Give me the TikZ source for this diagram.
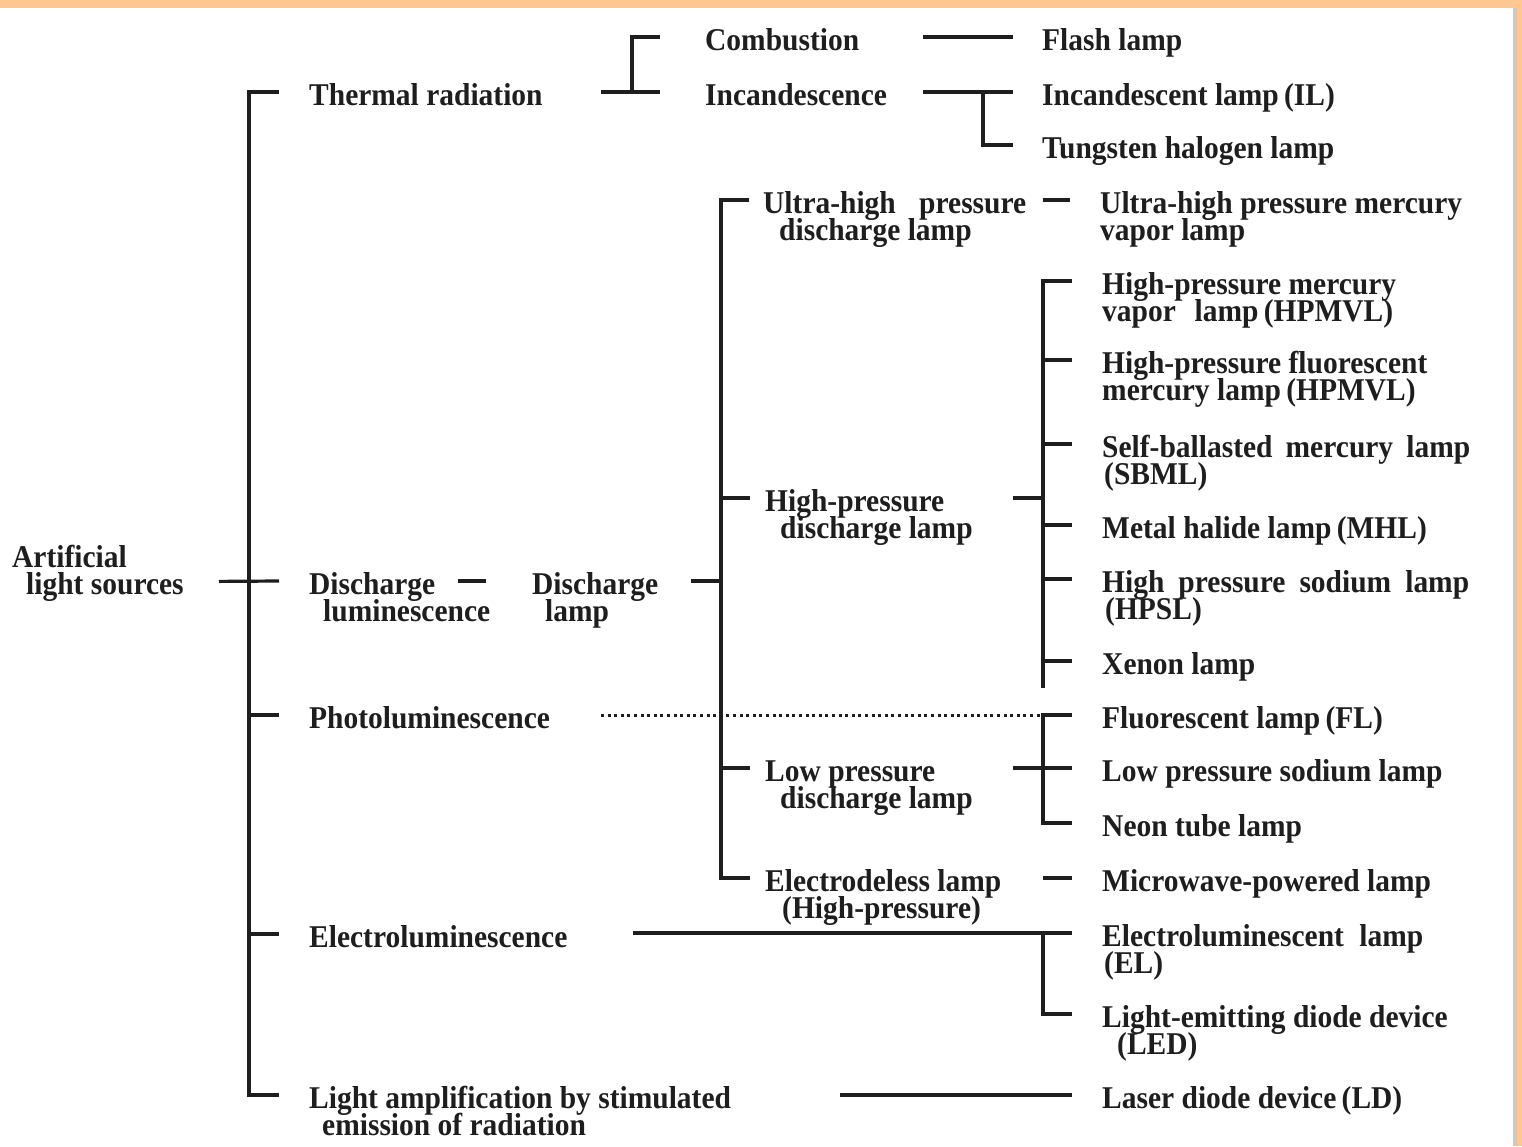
\documentclass[tikz,border=0pt]{standalone}
\usepackage{fontspec}
\setmainfont{Liberation Serif}[FakeStretch=0.93]
\usetikzlibrary{positioning}
\definecolor{ink}{HTML}{1E1E1E}
\definecolor{peach}{HTML}{FFC891}
\definecolor{rim}{HTML}{C9C9C9}
\newcommand{\jline}[2]{\makebox[#1][s]{#2}}

\begin{document}
\begin{tikzpicture}[x=1pt, y=-1pt,
  lbl/.style={anchor=west, inner sep=0pt, text height=27pt, text depth=0pt, text=ink,
    font=\fontsize{31.7}{27}\selectfont\bfseries},
  br/.style={draw=ink, line width=3.2pt},
  dotline/.style={draw=ink, line width=3pt, dash pattern=on 3pt off 3.6pt}]
  \useasboundingbox (0,0) rectangle (1522,1146);
  \fill[white] (0,0) rectangle (1522,1146);
  \fill[peach] (0,0) rectangle (1522,8);
  \fill[rim] (1513,8) rectangle (1517,1146);
  \fill[peach] (1517,0) rectangle (1522,1146);

  \coordinate (rootin) at (219,0);
  \coordinate (bus0) at (249,0);
  \coordinate (dash1) at (458,0);
  \coordinate (bus1in) at (601,0);
  \coordinate (bus1) at (632,0);
  \coordinate (elin) at (633,0);
  \coordinate (bus3in) at (691,0);
  \coordinate (bus3) at (721,0);
  \coordinate (ldin) at (840,0);
  \coordinate (bus2in) at (923,0);
  \coordinate (bus2) at (983,0);
  \coordinate (bus4in) at (1013,0);
  \coordinate (bus4) at (1043,0);
  \coordinate (bus4end) at (1043,688);

  \node[lbl] (src) at (12,554) {Artificial};
  \node[lbl, below right=0pt and 14pt of src.south west] (src2) {light sources};
  \node[lbl] (therm) at (309,92) {Thermal radiation};
  \node[lbl] (disch) at (309,581) {Discharge};
  \node[lbl, below right=0pt and 14pt of disch.south west] (disch2) {luminescence};
  \node[lbl] (photo) at (309,715) {Photoluminescence};
  \node[lbl] (electro) at (309,934) {Electroluminescence};
  \node[lbl] (laser) at (309,1095) {Light amplification by stimulated};
  \node[lbl, below right=0pt and 13pt of laser.south west] (laser2) {emission of radiation};

  \node[lbl] (comb) at (705,37) {Combustion};
  \node[lbl] (incand) at (705,92) {Incandescence};
  \node[lbl] (dlamp) at (532,581) {Discharge};
  \node[lbl, below right=0pt and 13pt of dlamp.south west] (dlamp2) {lamp};

  \node[lbl] (flash) at (1042,37) {Flash lamp};
  \node[lbl] (il) at (1042,92) {Incandescent lamp\,(IL)};
  \node[lbl] (thl) at (1042,145) {Tungsten halogen lamp};

  \node[lbl] (uhp) at (763,200) {\jline{263pt}{Ultra-high pressure}};
  \node[lbl, below right=0pt and 16pt of uhp.south west] (uhp2) {discharge lamp};
  \node[lbl] (hp) at (765,498) {High-pressure};
  \node[lbl, below right=0pt and 15pt of hp.south west] (hp2) {discharge lamp};
  \node[lbl] (lp) at (765,768) {Low pressure};
  \node[lbl, below right=0pt and 15pt of lp.south west] (lp2) {discharge lamp};
  \node[lbl] (eless) at (765,878) {Electrodeless lamp};
  \node[lbl, below right=0pt and 17pt of eless.south west] (eless2) {(High-pressure)};

  \node[lbl] (uhpmv) at (1100,200) {Ultra-high pressure mercury};
  \node[lbl, below right=0pt and 0pt of uhpmv.south west] (uhpmv2) {vapor lamp};
  \node[lbl] (hpmv) at (1102,281) {High-pressure mercury};
  \node[lbl, below right=0pt and 0pt of hpmv.south west] (hpmv2) {\jline{291pt}{vapor lamp\,(HPMVL)}};
  \node[lbl] (hpfm) at (1102,360) {High-pressure fluorescent};
  \node[lbl, below right=0pt and 0pt of hpfm.south west] (hpfm2) {mercury lamp\,(HPMVL)};
  \node[lbl] (sbml) at (1102,444) {\jline{368pt}{Self-ballasted mercury lamp}};
  \node[lbl, below right=0pt and 2pt of sbml.south west] (sbml2) {(SBML)};
  \node[lbl] (mhl) at (1102,525) {Metal halide lamp\,(MHL)};
  \node[lbl] (hpsl) at (1102,579) {\jline{367pt}{High pressure sodium lamp}};
  \node[lbl, below right=0pt and 3pt of hpsl.south west] (hpsl2) {(HPSL)};
  \node[lbl] (xenon) at (1102,661) {Xenon lamp};
  \node[lbl] (fl) at (1102,715) {Fluorescent lamp\,(FL)};
  \node[lbl] (lps) at (1102,768) {Low pressure sodium lamp};
  \node[lbl] (neon) at (1102,823) {Neon tube lamp};
  \node[lbl] (mwave) at (1102,878) {Microwave-powered lamp};
  \node[lbl] (el) at (1102,933) {\jline{321pt}{Electroluminescent lamp}};
  \node[lbl, below right=0pt and 2pt of el.south west] (el2) {(EL)};
  \node[lbl] (led) at (1102,1014) {Light-emitting diode device};
  \node[lbl, below right=0pt and 15pt of led.south west] (led2) {(LED)};
  \node[lbl] (ld) at (1102,1095) {Laser diode device\,(LD)};

  \draw[br] (rootin |- src2.west) -- ([xshift=-30pt]disch.west);
  \draw[br] ([xshift=-30pt]therm.west) -| (bus0 |- laser.west) -- ([xshift=-30pt]laser.west);
  \foreach \n in {photo,electro} \draw[br] (bus0 |- \n.west) -- ([xshift=-30pt]\n.west);

  \draw[br] (bus1in |- incand.west) -- ([xshift=-45pt]incand.west);
  \draw[br] ([xshift=-45pt]comb.west) -| (bus1 |- incand.west);
  \draw[br] (bus2in |- flash.west) -- ([xshift=-29pt]flash.west);
  \draw[br] (bus2in |- il.west) -- ([xshift=-29pt]il.west);
  \draw[br] (bus2 |- il.west) |- ([xshift=-29pt]thl.west);

  \draw[br] (dash1 |- dlamp.west) -- ([xshift=-46pt]dlamp.west);
  \draw[br] (bus3in |- dlamp.west) -- (bus3 |- dlamp.west);
  \draw[br] ([xshift=-14pt]uhp.west) -| (bus3 |- eless.west) -- ([xshift=-15pt]eless.west);
  \foreach \n in {hp,lp} \draw[br] (bus3 |- \n.west) -- ([xshift=-15pt]\n.west);
  \draw[br] (bus4 |- uhpmv.west) -- ([xshift=-30pt]uhpmv.west);

  \draw[br] (bus4in |- hp.west) -- (bus4 |- hp.west);
  \draw[br] ([xshift=-30pt]hpmv.west) -| (bus4end);
  \foreach \n in {hpfm,sbml,mhl,hpsl,xenon} \draw[br] (bus4 |- \n.west) -- ([xshift=-30pt]\n.west);

  \draw[dotline] (bus1in |- photo.west) -- (bus4 |- fl.west);
  \draw[br] ([xshift=-30pt]fl.west) -| (bus4 |- neon.west) -- ([xshift=-30pt]neon.west);
  \draw[br] (bus4in |- lps.west) -- ([xshift=-30pt]lps.west);
  \draw[br] (bus4 |- mwave.west) -- ([xshift=-30pt]mwave.west);

  \draw[br] (elin |- el.west) -- ([xshift=-30pt]el.west);
  \draw[br] (bus4 |- el.west) |- ([xshift=-30pt]led.west);
  \draw[br] (ldin |- ld.west) -- ([xshift=-30pt]ld.west);
\end{tikzpicture}
\end{document}
